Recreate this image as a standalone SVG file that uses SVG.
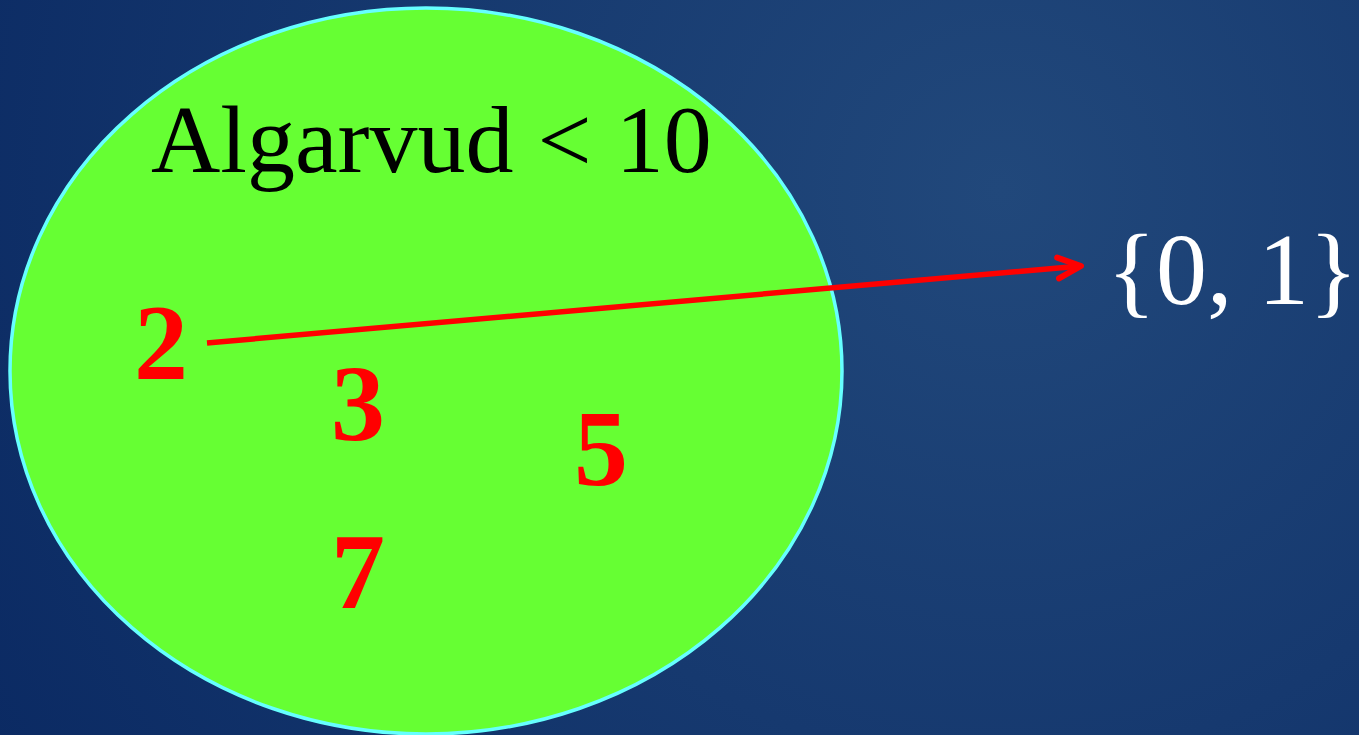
<svg xmlns="http://www.w3.org/2000/svg" width="1359" height="735" viewBox="0 0 1359 735">
  <defs>
    <radialGradient id="bg" gradientUnits="userSpaceOnUse" cx="1000" cy="190" r="1150">
      <stop offset="0" stop-color="#21487b"/>
      <stop offset="1" stop-color="#0b2a63"/>
    </radialGradient>
    <marker id="arrow" markerUnits="userSpaceOnUse" markerWidth="40" markerHeight="40" refX="26" refY="12" orient="auto" viewBox="0 0 40 24">
      <path d="M3,1.5 L26,12 L3,22.5" fill="none" stroke="#ff0000" stroke-width="6" stroke-linecap="round" stroke-linejoin="round"/>
    </marker>
    <style>
      .num { font-family: "Liberation Serif", "Times New Roman", serif; font-weight: bold; font-size: 108px; fill: #ff0000; }
      .lbl { font-family: "Liberation Serif", "Times New Roman", serif; font-size: 96px; fill: #000000; }
      .set { font-family: "Liberation Serif", "Times New Roman", serif; font-size: 102px; fill: #ffffff; }
    </style>
  </defs>
  <rect width="1359" height="735" fill="url(#bg)"/>
  <g id="set-ellipse">
    <ellipse cx="426" cy="371" rx="416" ry="363" fill="#66ff33" stroke="#66ffff" stroke-width="3.5"/>
    <text class="lbl" x="151" y="172">Algarvud &lt; 10</text>
  </g>
  <g id="n2"><text class="num" x="134" y="379">2</text></g>
  <g id="n3"><text class="num" x="331" y="440">3</text></g>
  <g id="n5"><text class="num" x="574" y="485">5</text></g>
  <g id="n7"><text class="num" x="331" y="608">7</text></g>
  <g id="codomain"><text class="set" x="1107" y="304">{0, 1}</text></g>
  <g id="connectors">
    <line x1="207" y1="343" x2="1081" y2="266" stroke="#ff0000" stroke-width="5.5" marker-end="url(#arrow)"/>
  </g>
</svg>
